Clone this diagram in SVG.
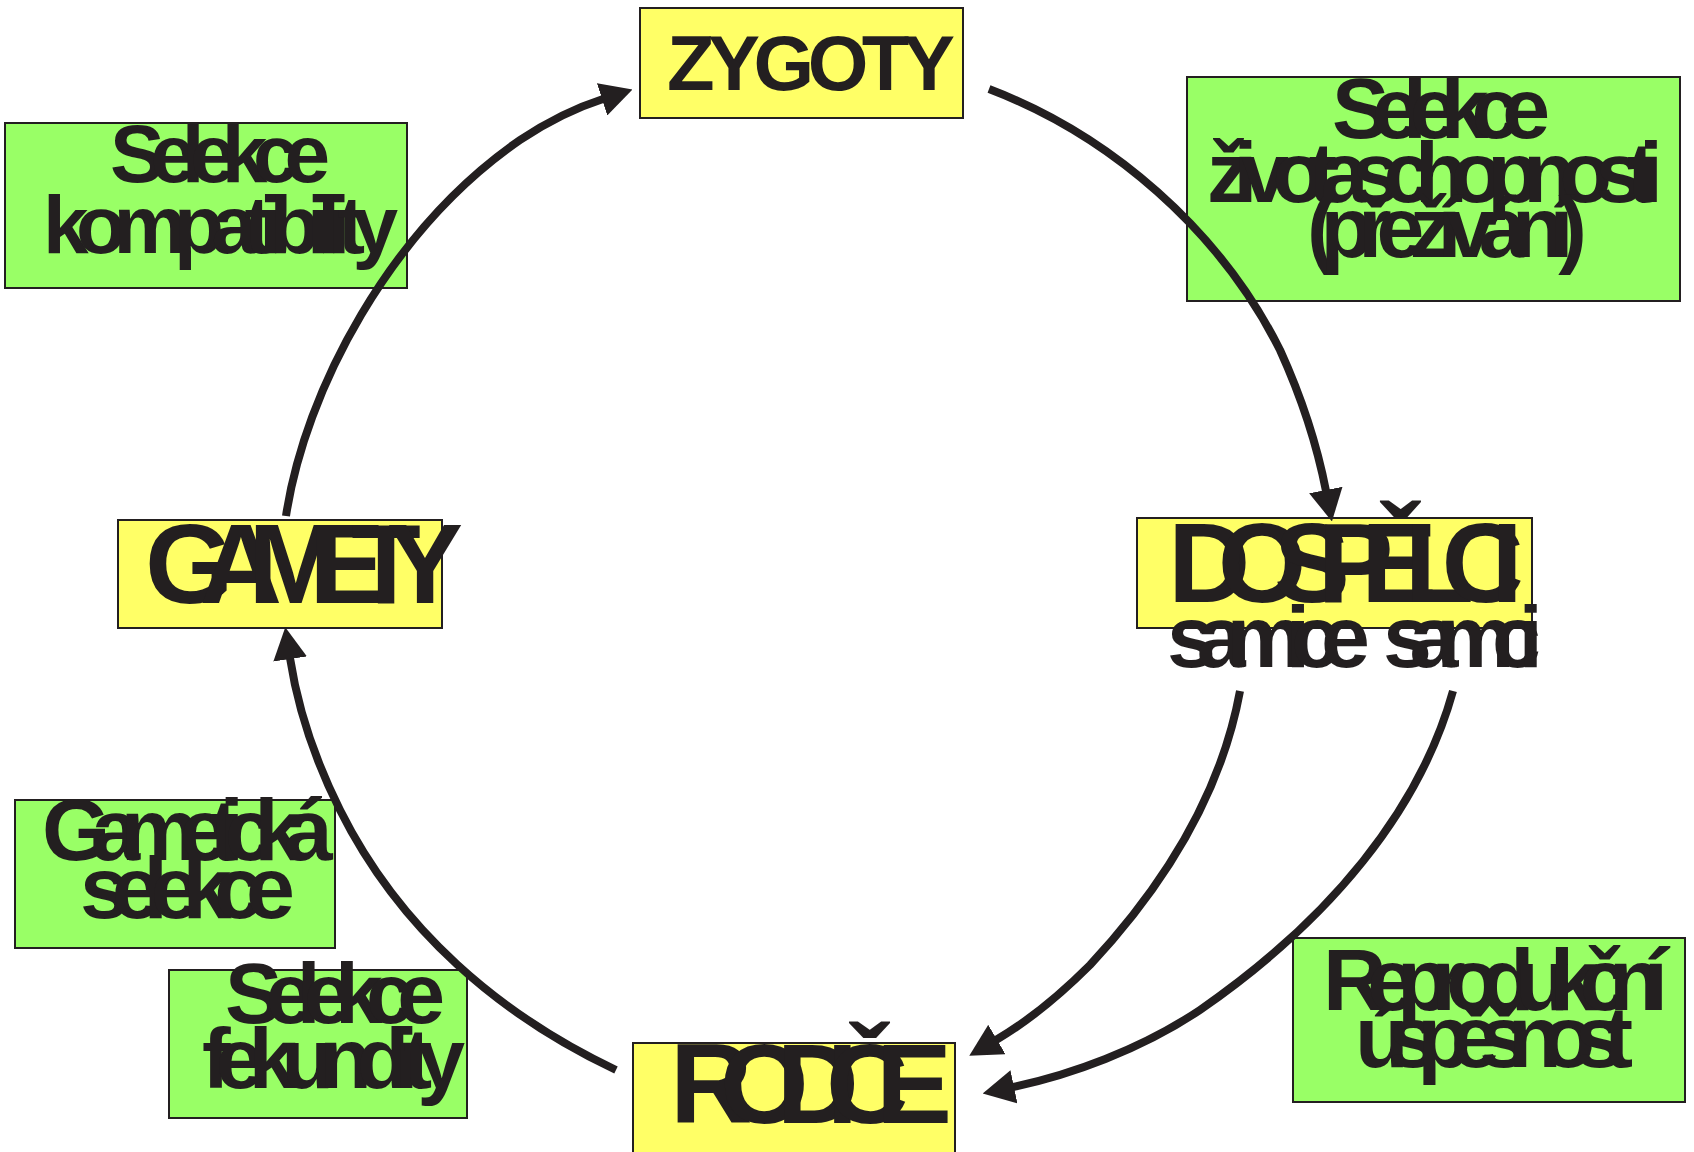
<svg xmlns="http://www.w3.org/2000/svg" width="1694" height="1152" viewBox="0 0 1694 1152">
<style>
.y{fill:#ffff66;stroke:#231f20;stroke-width:2}
.g{fill:#99ff66;stroke:#231f20;stroke-width:2}
text{font-family:"Liberation Sans",Arial,sans-serif;font-weight:bold;fill:#231f20}
.c{fill:none;stroke:#231f20;stroke-width:8}
</style>
<defs>
<marker id="ah" viewBox="0 0 32 34" refX="1" refY="17" markerWidth="32" markerHeight="34" markerUnits="userSpaceOnUse" orient="auto">
<path d="M0,0 L32,17 L0,34 z" fill="#231f20"/>
</marker>
</defs>
<rect width="1694" height="1152" fill="#ffffff"/>
<g id="zygoty">
<rect class="y" x="640" y="8" width="323" height="110"/>
<text x="667" y="90" font-size="78" textLength="288" lengthAdjust="spacing">ZYGOTY</text>
</g>
<g id="selekce-zivotaschopnosti">
<rect class="g" x="1187" y="77" width="493" height="224"/>
<text x="1332" y="138" font-size="86" textLength="218" lengthAdjust="spacing">Selekce</text>
<text x="1207" y="202" font-size="86" textLength="456" lengthAdjust="spacing">životaschopnosti</text>
<text x="1307" y="257" font-size="86" textLength="280" lengthAdjust="spacing">(přežívání)</text>
</g>
<g id="selekce-kompatibility">
<rect class="g" x="5" y="123" width="402" height="165"/>
<text x="110" y="182" font-size="82" textLength="220" lengthAdjust="spacing">Selekce</text>
<text x="43" y="253" font-size="82" textLength="355" lengthAdjust="spacing">kompatibility</text>
</g>
<g id="gamety">
<rect class="y" x="118" y="520" width="324" height="108"/>
<text x="145" y="603" font-size="114" textLength="318" lengthAdjust="spacing">GAMETY</text>
</g>
<g id="dospelci">
<rect class="y" x="1137" y="518" width="395" height="110"/>
<text x="1168" y="602" font-size="114" textLength="355" lengthAdjust="spacing">DOSPĚLCI</text>
<text x="1167" y="667" font-size="88" textLength="203" lengthAdjust="spacing">samice</text>
<text x="1383" y="667" font-size="88" textLength="160" lengthAdjust="spacing">samci</text>
</g>
<g id="gameticka-selekce">
<rect class="g" x="15" y="800" width="320" height="148"/>
<text x="42" y="860" font-size="88" textLength="291" lengthAdjust="spacing">Gametická</text>
<text x="80" y="918" font-size="88" textLength="215" lengthAdjust="spacing">selekce</text>
</g>
<g id="selekce-fekundity">
<rect class="g" x="169" y="970" width="298" height="148"/>
<text x="225" y="1023" font-size="86" textLength="220" lengthAdjust="spacing">Selekce</text>
<text x="202" y="1088" font-size="86" textLength="263" lengthAdjust="spacing">fekundity</text>
</g>
<g id="rodice">
<rect class="y" x="633" y="1043" width="322" height="115"/>
<text x="670" y="1123" font-size="114" textLength="282" lengthAdjust="spacing">RODIČE</text>
</g>
<g id="reprodukcni-uspesnost">
<rect class="g" x="1293" y="938" width="392" height="164"/>
<text x="1323" y="1010" font-size="88" textLength="345" lengthAdjust="spacing">Reprodukční</text>
<text x="1355" y="1067" font-size="88" textLength="278" lengthAdjust="spacing">úspěšnost</text>
</g>
<g id="connectors">
<path class="c" marker-end="url(#ah)" d="M286,516 C305,390 390,230 520,140 C550,120 575,108 603,99"/>
<path class="c" marker-end="url(#ah)" d="M989,89 C1110,135 1220,230 1280,350 C1305,405 1318,450 1326,491"/>
<path class="c" marker-end="url(#ah)" d="M1240,691 C1220,800 1160,890 1090,965 C1060,995 1030,1020 996,1040"/>
<path class="c" marker-end="url(#ah)" d="M1453,691 C1420,810 1330,920 1200,1010 C1140,1050 1070,1075 1013,1087"/>
<path class="c" marker-end="url(#ah)" d="M616,1070 C500,1015 400,930 340,810 C315,760 298,710 290,658"/>
</g>
</svg>
